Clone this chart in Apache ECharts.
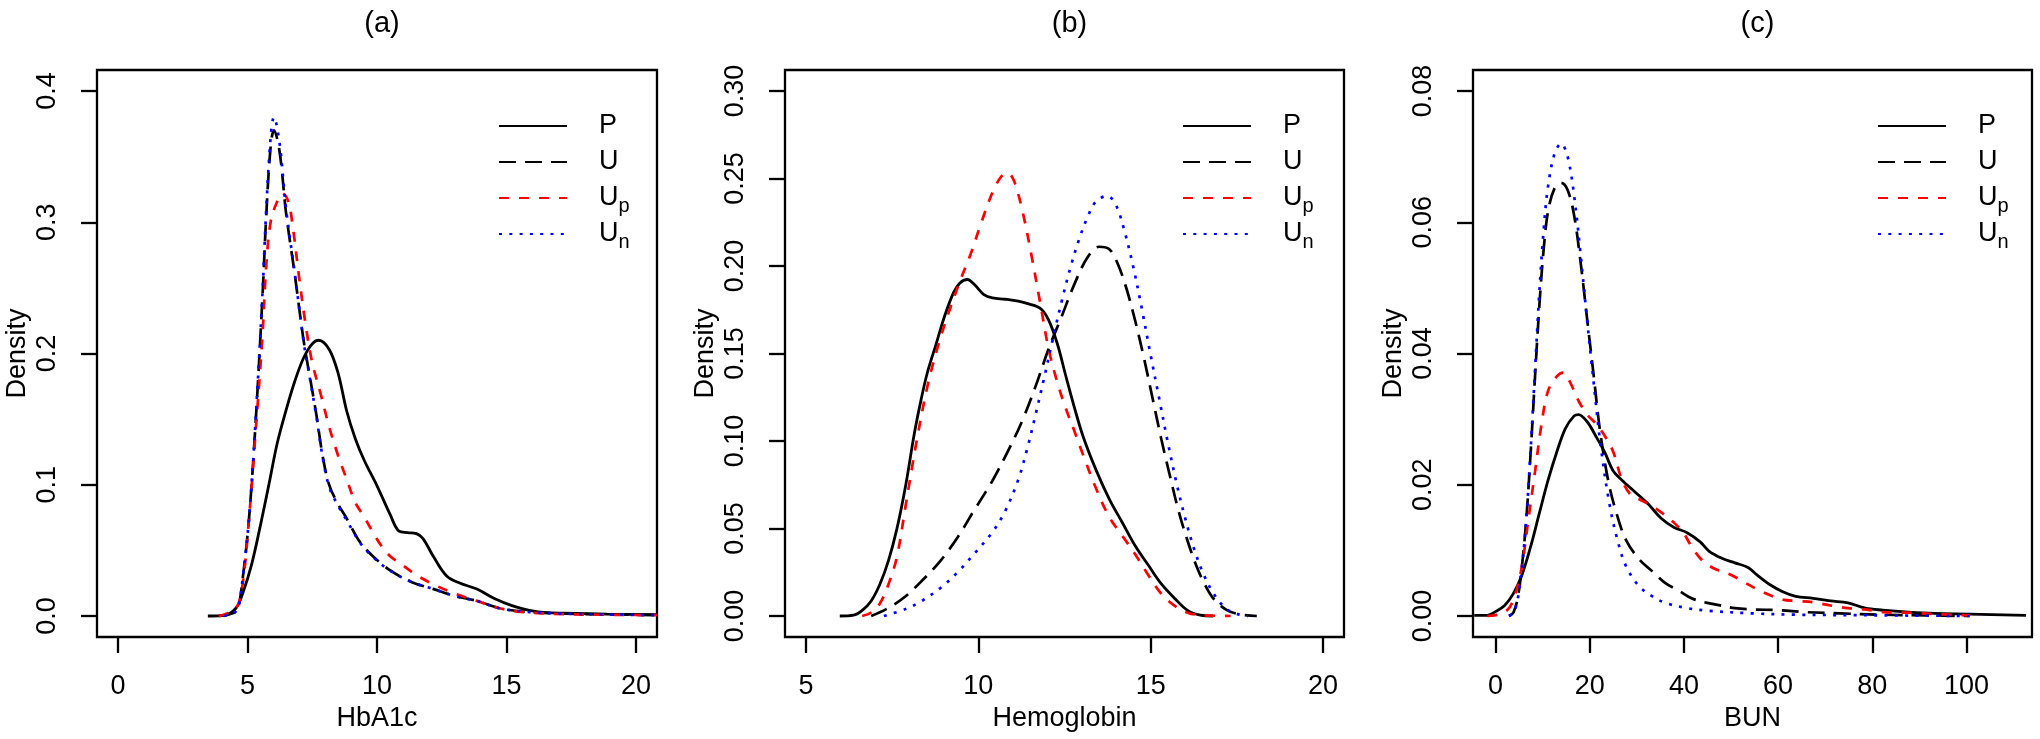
<!DOCTYPE html>
<html>
<head>
<meta charset="utf-8">
<script src="https://cdn.jsdelivr.net/npm/echarts@6/dist/echarts.min.js"></script>
<style>
  html, body { margin: 0; padding: 0; background: #fff; }
  #main { width: 2040px; height: 739px; }
</style>
</head>
<body>
<div id="main"></div>
<script>
var panelTitles = ['(a)', '(b)', '(c)'];
var axisNames = ['HbA1c', 'Hemoglobin', 'BUN'];
var seriesNames = ['P', 'U', 'Up', 'Un'];

var xTicksA = [0, 5, 10, 15, 20];
var xTicksB = [5, 10, 15, 20];
var xTicksC = [0, 20, 40, 60, 80, 100];
var yTicksA = [0, 0.1, 0.2, 0.3, 0.4];
var yTicksB = [0, 0.05, 0.1, 0.15, 0.2, 0.25, 0.3];
var yTicksC = [0, 0.02, 0.04, 0.06, 0.08];

// (a) HbA1c
var hbP = [[3.47,0],[4.14,0.0007],[4.56,0.0061],[4.81,0.0169],[5.15,0.0386],[5.48,0.0673],[5.82,0.0995],[6.15,0.1318],[6.49,0.1569],[6.82,0.1785],[7.16,0.1964],[7.49,0.2072],[7.75,0.2101],[8.16,0.2029],[8.5,0.1849],[8.83,0.1562],[9.17,0.1347],[9.51,0.1185],[10.01,0.0988],[10.51,0.0772],[10.85,0.0646],[11.18,0.0635],[11.52,0.0628],[11.77,0.0592],[12.19,0.0449],[12.69,0.0305],[13.19,0.0251],[13.86,0.0205],[14.53,0.0133],[15.21,0.0079],[15.88,0.0043],[16.55,0.0025],[17.22,0.0022],[18.89,0.0014],[20.82,0.0011]];
var hbU = [[3.89,0],[4.48,0.0025],[4.64,0.0061],[4.81,0.0277],[5.06,0.0744],[5.31,0.1462],[5.57,0.2398],[5.73,0.3073],[5.9,0.3591],[6.02,0.37],[6.24,0.3537],[6.49,0.307],[6.82,0.261],[7.16,0.2108],[7.41,0.182],[7.66,0.1533],[7.91,0.121],[8.16,0.0995],[8.5,0.0851],[8.83,0.0743],[9.34,0.0564],[9.84,0.0456],[10.51,0.0348],[11.35,0.0258],[12.19,0.0205],[13.03,0.0151],[13.86,0.0115],[14.7,0.0061],[15.54,0.0036],[17.22,0.0018],[20.82,0.0007]];
var hbUp = [[3.89,0],[4.56,0.0061],[4.81,0.0241],[5.06,0.0744],[5.31,0.1393],[5.57,0.2111],[5.73,0.2685],[5.9,0.3009],[6.15,0.316],[6.35,0.322],[6.57,0.316],[6.74,0.298],[6.99,0.2585],[7.24,0.2226],[7.49,0.1939],[7.83,0.1688],[8.16,0.1437],[8.5,0.1221],[8.83,0.1041],[9.17,0.0862],[9.51,0.0754],[9.84,0.0639],[10.18,0.0531],[10.51,0.0456],[11.01,0.0384],[11.52,0.0312],[12.19,0.024],[13.03,0.0169],[13.86,0.0115],[14.7,0.0061],[15.54,0.0032],[17.22,0.0014],[20.82,0.0007]];
var hbUn = [[4.1,0],[4.48,0.0025],[4.64,0.0061],[4.81,0.0277],[5.06,0.0744],[5.31,0.148],[5.57,0.243],[5.73,0.312],[5.9,0.366],[6.02,0.38],[6.24,0.36],[6.49,0.31],[6.82,0.262],[7.16,0.21],[7.41,0.181],[7.66,0.152],[7.91,0.12],[8.16,0.098],[8.5,0.084],[8.83,0.073],[9.34,0.056],[9.84,0.045],[10.51,0.0345],[11.35,0.0258],[12.19,0.0205],[13.03,0.015],[13.86,0.0115],[14.7,0.006],[15.54,0.0036],[17.22,0.0018],[20.82,0.0007]];

// (b) Hemoglobin
var hgP = [[5.98,0],[6.38,0.0005],[6.63,0.0032],[6.89,0.0086],[7.14,0.018],[7.39,0.0315],[7.64,0.0501],[7.89,0.0744],[8.14,0.104],[8.33,0.1228],[8.52,0.139],[8.77,0.1551],[9.02,0.1713],[9.28,0.1848],[9.46,0.1902],[9.68,0.1923],[9.9,0.1891],[10.16,0.1837],[10.41,0.1818],[10.78,0.181],[11.16,0.1799],[11.41,0.1786],[11.79,0.1759],[12.04,0.1691],[12.29,0.1557],[12.54,0.137],[12.8,0.1182],[13.05,0.102],[13.42,0.0832],[13.8,0.0668],[14.18,0.0533],[14.56,0.0398],[14.93,0.0291],[15.31,0.0183],[15.69,0.0102],[16.07,0.0032],[16.44,0.0005],[16.82,0]];
var hgU = [[6.89,0],[7.39,0.0046],[7.89,0.0113],[8.39,0.0207],[8.9,0.0315],[9.4,0.045],[9.9,0.0611],[10.41,0.0773],[10.91,0.0962],[11.29,0.1123],[11.66,0.1312],[12.04,0.1527],[12.42,0.1713],[12.8,0.1902],[13.17,0.205],[13.5,0.211],[13.8,0.2096],[14.05,0.201],[14.3,0.187],[14.56,0.168],[14.81,0.147],[15.06,0.124],[15.31,0.101],[15.56,0.08],[15.81,0.06],[16.07,0.043],[16.32,0.029],[16.57,0.018],[16.82,0.01],[17.2,0.0035],[17.57,0.001],[18.08,0]];
var hgUp = [[6.63,0],[6.89,0.002],[7.14,0.007],[7.39,0.018],[7.64,0.034],[7.89,0.063],[8.21,0.1],[8.52,0.131],[8.84,0.155],[9.15,0.174],[9.46,0.191],[9.78,0.207],[10.09,0.225],[10.41,0.242],[10.66,0.251],[10.85,0.2532],[11.04,0.2484],[11.29,0.2305],[11.54,0.2063],[11.79,0.1794],[12.04,0.1525],[12.29,0.1336],[12.54,0.1185],[12.8,0.105],[13.05,0.0915],[13.42,0.0727],[13.8,0.0565],[14.18,0.0458],[14.56,0.035],[14.93,0.0234],[15.31,0.0127],[15.69,0.0059],[16.07,0.0019],[16.44,0.0005],[17.32,0]];
var hgUn = [[7.26,0],[7.89,0.004],[8.39,0.009],[8.9,0.016],[9.4,0.025],[9.9,0.036],[10.41,0.048],[10.78,0.06],[11.16,0.078],[11.41,0.095],[11.66,0.115],[11.92,0.137],[12.17,0.159],[12.42,0.18],[12.67,0.199],[12.92,0.215],[13.17,0.228],[13.42,0.237],[13.74,0.24],[13.99,0.235],[14.24,0.22],[14.49,0.2],[14.74,0.176],[14.99,0.15],[15.25,0.124],[15.5,0.099],[15.75,0.076],[16,0.056],[16.25,0.039],[16.51,0.025],[16.82,0.013],[17.2,0.004],[17.57,0.0008],[17.83,0]];

// (c) BUN
var bunP = [[-4.52,0.0001],[-1.75,0.0001],[0.09,0.0007],[1.94,0.0016],[3.78,0.0034],[5.63,0.0063],[7.47,0.0106],[9.32,0.0157],[11.16,0.0207],[13.01,0.025],[14.85,0.0286],[16.7,0.0305],[17.62,0.0307],[19.46,0.0296],[21.31,0.0274],[23.15,0.025],[25,0.0221],[26.85,0.0207],[29.61,0.0189],[32.38,0.0171],[35.15,0.0149],[37.92,0.0135],[40.68,0.0127],[43.45,0.0113],[45.3,0.0099],[48.06,0.0088],[50.83,0.0081],[53.6,0.0074],[55.44,0.0063],[58.21,0.0048],[60.98,0.0037],[63.75,0.003],[67.44,0.0027],[71.13,0.0023],[74.82,0.002],[78.51,0.0012],[82.2,0.0009],[87.73,0.0006],[93.27,0.0004],[100.65,0.0003],[112.64,0.0001]];
var bunU = [[2.86,0],[3.78,0.0005],[4.7,0.0027],[5.63,0.0077],[6.55,0.0149],[7.47,0.025],[8.39,0.0365],[9.32,0.0474],[10.24,0.056],[11.16,0.0617],[12.55,0.0652],[13.93,0.066],[15.31,0.0649],[16.7,0.061],[18.08,0.0538],[19.46,0.0452],[20.85,0.0366],[22.23,0.028],[24.08,0.0201],[25.92,0.0151],[27.77,0.0115],[30.54,0.0086],[33.3,0.0068],[36.07,0.005],[38.84,0.0039],[41.61,0.0027],[44.37,0.0021],[47.14,0.0017],[50.83,0.0012],[54.52,0.001],[60.06,0.0009],[65.59,0.0006],[72.97,0.0004],[82.2,0.0002],[91.42,0.0001],[100.65,0]];
var bunUp = [[-1.75,0],[1.01,0.0003],[2.86,0.0012],[4.24,0.0034],[5.63,0.0077],[7.01,0.0149],[8.39,0.022],[9.78,0.0293],[11.16,0.0343],[13.01,0.0365],[14.39,0.0371],[15.77,0.0357],[17.62,0.0328],[19.46,0.0307],[21.31,0.0293],[23.15,0.0275],[25,0.025],[26.85,0.0207],[28.69,0.0185],[30.54,0.0178],[32.38,0.0171],[34.23,0.0163],[36.07,0.0153],[37.92,0.0142],[39.76,0.0128],[41.61,0.0106],[43.45,0.0088],[45.3,0.0077],[47.14,0.007],[49.91,0.0063],[52.68,0.0052],[55.44,0.0041],[58.21,0.0032],[60.98,0.0025],[63.75,0.0023],[67.44,0.0021],[71.13,0.0016],[74.82,0.0012],[78.51,0.001],[82.2,0.0006],[87.73,0.0005],[93.27,0.0003],[100.65,0.0001]];
var bunUn = [[2.86,0],[3.78,0.0005],[4.7,0.0025],[5.63,0.0075],[6.55,0.015],[7.47,0.0255],[8.39,0.0375],[9.32,0.0495],[10.24,0.059],[11.16,0.0655],[12.55,0.0705],[13.93,0.072],[15.31,0.07],[16.7,0.064],[18.08,0.055],[19.46,0.045],[20.85,0.0355],[22.23,0.0265],[24.08,0.0175],[25.92,0.0115],[27.77,0.0075],[30.54,0.0045],[33.3,0.003],[36.07,0.002],[40.68,0.0012],[45.3,0.0008],[54.52,0.0004],[63.75,0.0002],[82.2,0.0001],[100.65,0]];

var panelData = [
    [hbP, hbU, hbUp, hbUn],
    [hgP, hgU, hgUp, hgUn],
    [bunP, bunU, bunUp, bunUn]
];
var xTicks = [xTicksA, xTicksB, xTicksC];
var yTicks = [yTicksA, yTicksB, yTicksC];
var yDigits = [1, 2, 2];

var FONT = '"Liberation Sans", Arial, Helvetica, sans-serif';
var gridLeft = [97, 785, 1473];
var gridWidth = [560, 559, 559];
var xRange = [[-0.81, 20.81], [4.39, 20.61], [-4.78, 113.9]];
var yRange = [[-0.016, 0.416], [-0.012, 0.312], [-0.0032, 0.0832]];
var legendLeft = [498, 1182, 1877];

var lineStyles = [
    {color: '#000000', width: 2.8, type: 'solid'},
    {color: '#000000', width: 2.7, type: [17, 9]},
    {color: '#ff0000', width: 2.7, type: [10, 10]},
    {color: '#0000ff', width: 2.7, type: [3, 7.3]}
];

var myChart = echarts.init(document.getElementById('main'));

var option = {
    animation: false,
    backgroundColor: '#fff',
    textStyle: {fontFamily: FONT, color: '#000'},
    title: [],
    legend: [],
    grid: [],
    xAxis: [],
    yAxis: [],
    series: []
};

for (var i = 0; i < 3; i++) {
    option.title.push({
        text: panelTitles[i],
        left: gridLeft[i] + gridWidth[i] / 2,
        top: 4,
        textAlign: 'center',
        textStyle: {fontFamily: FONT, fontSize: 29, fontWeight: 'normal', color: '#000'}
    });
    option.grid.push({
        left: gridLeft[i], top: 70, width: gridWidth[i], height: 567,
        show: true, borderColor: '#000', borderWidth: 2.3, backgroundColor: 'transparent'
    });
    option.xAxis.push({
        type: 'value', gridIndex: i, position: 'bottom',
        min: xRange[i][0], max: xRange[i][1],
        name: axisNames[i], nameLocation: 'middle', nameGap: 66,
        nameTextStyle: {fontFamily: FONT, fontSize: 27, color: '#000'},
        axisLine: {show: false, onZero: false},
        splitLine: {show: false},
        axisTick: {show: true, inside: false, length: 16, customValues: xTicks[i], lineStyle: {color: '#000', width: 2.3}},
        axisLabel: {customValues: xTicks[i], margin: 36, fontFamily: FONT, fontSize: 27, color: '#000'}
    });
    (function (d) {
        option.yAxis.push({
            type: 'value', gridIndex: i, position: 'left',
            min: yRange[i][0], max: yRange[i][1],
            name: 'Density', nameLocation: 'middle', nameGap: 66,
            nameTextStyle: {fontFamily: FONT, fontSize: 27, color: '#000'},
            axisLine: {show: false, onZero: false},
            splitLine: {show: false},
            axisTick: {show: true, inside: false, length: 16, customValues: yTicks[i], lineStyle: {color: '#000', width: 2.3}},
            axisLabel: {
                customValues: yTicks[i], rotate: 90, margin: 36,
                fontFamily: FONT, fontSize: 27, color: '#000',
                formatter: function (v) { return v.toFixed(d); }
            }
        });
    })(yDigits[i]);
    option.legend.push({
        data: seriesNames,
        orient: 'vertical',
        left: legendLeft[i], top: 108,
        padding: 0,
        itemWidth: 68, itemHeight: 14, itemGap: 0,
        selectedMode: false,
        itemStyle: {opacity: 0, borderWidth: 0},
        textStyle: {
            fontFamily: FONT, fontSize: 27, color: '#000', lineHeight: 36,
            padding: [0, 0, 0, 27],
            rich: {
                sub: {fontFamily: FONT, fontSize: 20, color: '#000', lineHeight: 36, verticalAlign: 'bottom'}
            }
        },
        formatter: function (name) {
            if (name === 'Up') return 'U{sub|p}';
            if (name === 'Un') return 'U{sub|n}';
            return name;
        }
    });
    for (var s = 0; s < 4; s++) {
        option.series.push({
            name: seriesNames[s],
            type: 'line',
            xAxisIndex: i, yAxisIndex: i,
            data: panelData[i][s],
            smooth: 0.35,
            symbol: 'none',
            showSymbol: false,
            clip: true,
            itemStyle: {color: lineStyles[s].color},
            lineStyle: lineStyles[s],
            z: 2 + s
        });
    }
}

myChart.setOption(option);
</script>
</body>
</html>
